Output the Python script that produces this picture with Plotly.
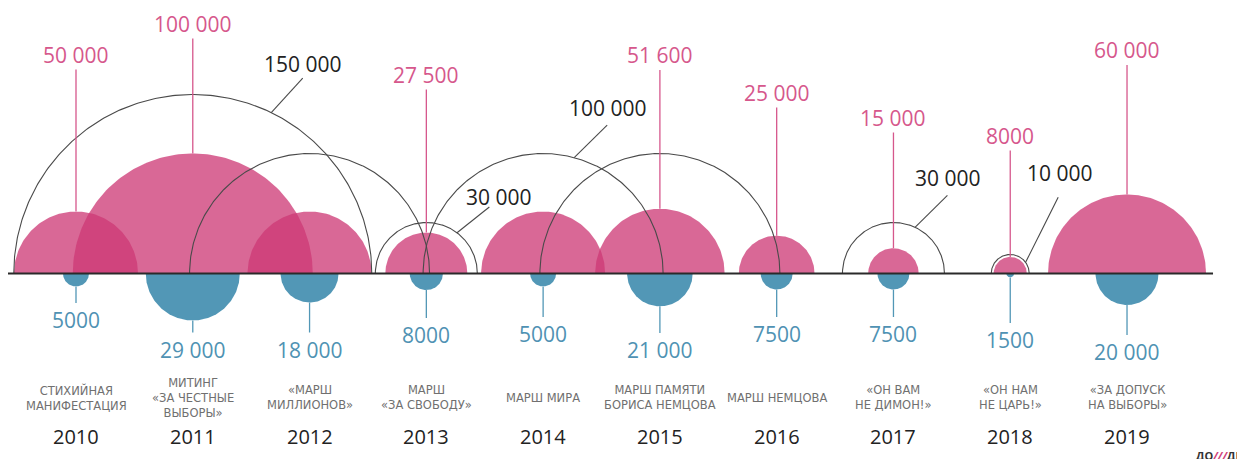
import numpy as np
import plotly.graph_objects as go

# ---------------- data ----------------
years = [2010, 2011, 2012, 2013, 2014, 2015, 2016, 2017, 2018, 2019]
events = [
    ["СТИХИЙНАЯ", "МАНИФЕСТАЦИЯ"],
    ["МИТИНГ", "«ЗА ЧЕСТНЫЕ", "ВЫБОРЫ»"],
    ["«МАРШ", "МИЛЛИОНОВ»"],
    ["МАРШ", "«ЗА СВОБОДУ»"],
    ["МАРШ МИРА"],
    ["МАРШ ПАМЯТИ", "БОРИСА НЕМЦОВА"],
    ["МАРШ НЕМЦОВА"],
    ["«ОН ВАМ", "НЕ ДИМОН!»"],
    ["«ОН НАМ", "НЕ ЦАРЬ!»"],
    ["«ЗА ДОПУСК", "НА ВЫБОРЫ»"],
]
pink_values = [50000, 100000, 50000, 27500, 50000, 51600, 25000, 15000, 8000, 60000]
pink_labeled = [True, True, False, True, False, True, True, True, True, True]
black_values = [None, 150000, 100000, 30000, 100000, 100000, None, 30000, 10000, None]
black_labeled = [False, True, False, True, True, False, False, True, True, False]
blue_values = [5000, 29000, 18000, 8000, 5000, 21000, 7500, 7500, 1500, 20000]

# ---------------- layout / style ----------------
W, H = 1237, 459
STEP = 116.78          # px per year
X0 = 76                # px position of first year
Y0 = 273.5             # baseline (px from top)
# size scale (value -> radius in px), piecewise linear
SIZE_DOMAIN = [0, 5000, 10000, 20000, 27500, 30000, 50000, 60000, 100000, 150000]
SIZE_RANGE = [0, 13, 19, 31.5, 41, 51, 62, 79, 120, 179]

PINK = "rgba(205,56,117,0.76)"
PINK_TXT = "#d6578c"
BLUE = "#5297b6"
BLUE_TXT = "#4f92b3"
ARC = "#4a4a4a"
FONT = "Open Sans"

# label placement (px)
pink_label_y = [54.5, 23.5, None, 74.5, None, 55, 92.5, 117.5, 135.5, 50]
blue_label_y = [320, 349.5, 349.5, 335, 334, 350, 334, 334, 340, 352]
# black labels: start angle on arc (deg), leader dx, dy (px), label offset from leader end
black_leader = {
    2011: (64, 31.5, 34.6, 0, -14),
    2013: (53, 32.3, 25.8, 10, -10),
    2014: (75, 33, 32.5, 1, -17),
    2017: (65, 32.4, 32, 0.5, -17),
    2018: (36, 32.6, 65, 2, -24),
}


def rad(v):
    return float(np.interp(v, SIZE_DOMAIN, SIZE_RANGE))


def fmt(v):
    return f"{v:,}".replace(",", " ") if v >= 10000 else str(v)


def semicircle(cx, r, up=True, n=120):
    t = np.linspace(0, np.pi, n)
    xs = cx + (r * np.cos(t)) / STEP
    ys = Y0 - r * np.sin(t) if up else Y0 + r * np.sin(t)
    return list(xs), list(ys)


fig = go.Figure()

# pink semicircles
for yr, v in zip(years, pink_values):
    xs, ys = semicircle(yr, rad(v), True)
    fig.add_trace(go.Scatter(x=xs, y=ys, mode="lines", fill="toself",
                             fillcolor=PINK, line=dict(width=0),
                             hoverinfo="skip", showlegend=False))

# blue semicircles
for yr, v in zip(years, blue_values):
    xs, ys = semicircle(yr, rad(v), False)
    fig.add_trace(go.Scatter(x=xs, y=ys, mode="lines", fill="toself",
                             fillcolor=BLUE, line=dict(width=0),
                             hoverinfo="skip", showlegend=False))

# black outline arcs
for yr, v in zip(years, black_values):
    if v is None:
        continue
    xs, ys = semicircle(yr, rad(v), True, n=240)
    fig.add_trace(go.Scatter(x=xs, y=ys, mode="lines",
                             line=dict(width=1.1, color=ARC),
                             hoverinfo="skip", showlegend=False))

shapes = []
ann = []

# baseline
shapes.append(dict(type="line", xref="x", yref="y",
                   x0=years[0] - 68 / STEP, x1=years[-1] + 86 / STEP,
                   y0=Y0, y1=Y0, line=dict(color="#2a2a2a", width=1.8)))

# pink labels
for yr, v, lab, ly in zip(years, pink_values, pink_labeled, pink_label_y):
    if not lab:
        continue
    top = Y0 - rad(v)
    shapes.append(dict(type="line", xref="x", yref="y", x0=yr, x1=yr,
                       y0=ly + 15, y1=top, line=dict(color=PINK_TXT, width=1.3)))
    ann.append(dict(x=yr, y=ly, xref="x", yref="y", showarrow=False, text=fmt(v),
                    font=dict(family=FONT, size=21, color=PINK_TXT),
                    xanchor="center", yanchor="middle"))

# blue labels
for yr, v, ly in zip(years, blue_values, blue_label_y):
    bot = Y0 + rad(v)
    shapes.append(dict(type="line", xref="x", yref="y", x0=yr, x1=yr,
                       y0=bot, y1=ly - 17, line=dict(color=BLUE, width=1.3)))
    ann.append(dict(x=yr, y=ly, xref="x", yref="y", showarrow=False, text=fmt(v),
                    font=dict(family=FONT, size=21, color=BLUE_TXT),
                    xanchor="center", yanchor="middle"))

# black labels
for yr, v, lab in zip(years, black_values, black_labeled):
    if not lab:
        continue
    ang, dx, dy, lx, ly = black_leader[yr]
    r = rad(v)
    a = np.deg2rad(ang)
    sx = yr + r * np.cos(a) / STEP
    sy = Y0 - r * np.sin(a)
    ex = sx + dx / STEP
    ey = sy - dy
    shapes.append(dict(type="line", xref="x", yref="y", x0=sx, x1=ex,
                       y0=sy, y1=ey, line=dict(color=ARC, width=1.1)))
    ann.append(dict(x=ex + lx / STEP, y=ey + ly, xref="x", yref="y", showarrow=False,
                    text=fmt(v), font=dict(family=FONT, size=21, color="#222222"),
                    xanchor="center", yanchor="middle"))

# event names and years
for yr, lines in zip(years, events):
    ann.append(dict(x=yr, y=397.5, xref="x", yref="y", showarrow=False,
                    text="<br>".join(lines),
                    font=dict(family="DejaVu Sans", size=11.5, color="#707070"),
                    xanchor="center", yanchor="middle", align="center"))
    ann.append(dict(x=yr, y=436, xref="x", yref="y", showarrow=False, text=str(yr),
                    font=dict(family=FONT, size=20, color="#222222"),
                    xanchor="center", yanchor="middle"))

# logo (cut at the page edge, as in the original)
ann.append(dict(x=1194 / W, y=1 - 455 / H, xref="paper", yref="paper", showarrow=False,
                text="<b>ДО<span style='color:#d0407a'><i>///</i></span>ДЬ</b>",
                font=dict(family=FONT, size=11, color="#333333"),
                xanchor="left", yanchor="middle"))

fig.update_layout(
    width=W, height=H, autosize=False,
    margin=dict(l=0, r=0, t=0, b=0, pad=0),
    paper_bgcolor="white", plot_bgcolor="white",
    xaxis=dict(range=[years[0] - X0 / STEP, years[0] + (W - X0) / STEP],
               visible=False, fixedrange=True),
    yaxis=dict(range=[H, 0], visible=False, fixedrange=True),
    shapes=shapes, annotations=ann, showlegend=False,
)

fig.write_html("out.html")
